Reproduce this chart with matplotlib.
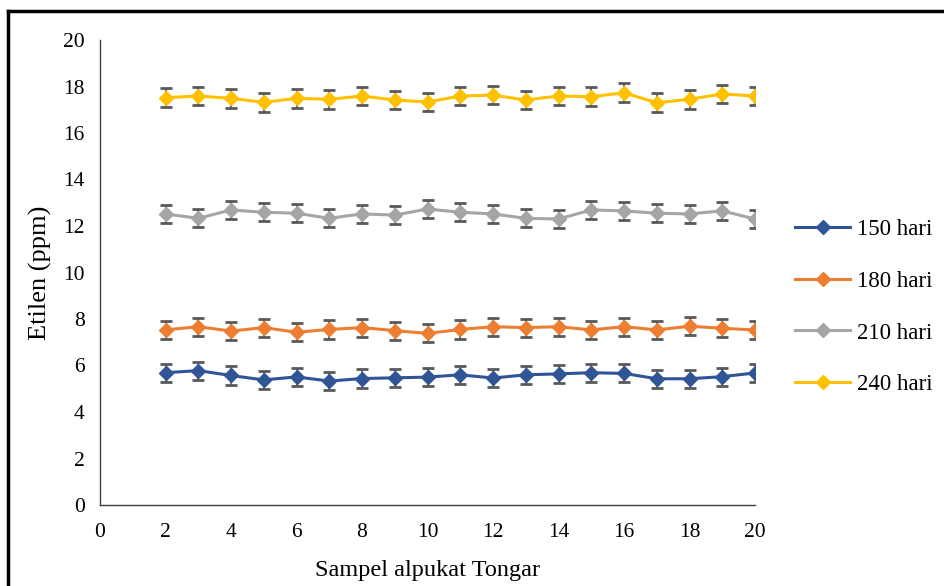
import matplotlib
matplotlib.use("Agg")
import matplotlib.pyplot as plt
from matplotlib.lines import Line2D

plt.rcParams["font.family"] = ["Liberation Serif", "DejaVu Serif"]

samples = list(range(2, 21))
labels = ["150 hari", "180 hari", "210 hari", "240 hari"]
colors = ["#2F5597", "#ED7D31", "#A5A5A5", "#FFC000"]

etilen_150 = [5.69, 5.78, 5.57, 5.38, 5.51, 5.33, 5.44, 5.47, 5.50, 5.60,
              5.46, 5.60, 5.64, 5.69, 5.66, 5.43, 5.43, 5.52, 5.68]
etilen_180 = [7.53, 7.67, 7.48, 7.63, 7.43, 7.55, 7.63, 7.50, 7.38, 7.55,
              7.67, 7.63, 7.67, 7.53, 7.67, 7.53, 7.69, 7.60, 7.53]
etilen_210 = [12.52, 12.33, 12.69, 12.59, 12.55, 12.33, 12.52, 12.47, 12.73, 12.59,
              12.52, 12.33, 12.30, 12.69, 12.65, 12.55, 12.52, 12.65, 12.30]
etilen_240 = [17.52, 17.59, 17.49, 17.32, 17.49, 17.45, 17.59, 17.42, 17.33, 17.59,
              17.63, 17.42, 17.59, 17.56, 17.73, 17.30, 17.45, 17.68, 17.59]
err = [0.39, 0.39, 0.38, 0.40]
series = [etilen_150, etilen_180, etilen_210, etilen_240]

fig = plt.figure(figsize=(9.44, 5.86), dpi=100)
ax = fig.add_axes([100 / 944, 1 - 505 / 586, 655 / 944, 465 / 586])

for vals, e, c in zip(series, err, colors):
    ax.errorbar(samples, vals, yerr=e, color=c, lw=2.2, marker="D", ms=7.5,
                ecolor="#595959", elinewidth=1.2, capsize=4.5, capthick=2, zorder=3)

ax.set_xlim(0, 20)
ax.set_ylim(0, 20)
ax.set_xticks(range(0, 21, 2))
ax.set_yticks(range(0, 21, 2))
ax.tick_params(length=0, labelsize=15.5)
ax.tick_params(axis="x", pad=13)
ax.tick_params(axis="y", pad=11)
for s in ("top", "right"):
    ax.spines[s].set_visible(False)
for s in ("left", "bottom"):
    ax.spines[s].set_color("#404040")
    ax.spines[s].set_linewidth(1)
ax.set_xlabel("Sampel alpukat Tongar", fontsize=17.5, labelpad=13)
ax.set_ylabel("Etilen (ppm)", fontsize=19, labelpad=8)

handles = [Line2D([], [], color=c, lw=2.2, marker="D", ms=7) for c in colors]
fig.legend(handles, labels, loc="center left", bbox_to_anchor=(795 / 944, 1 - 307 / 586),
           frameon=False, fontsize=16.5, labelspacing=1.35, handlelength=2.4,
           handletextpad=0.3, borderpad=0, borderaxespad=0)

# outer frame (only top and left edges are visible in the crop)
fig.add_artist(Line2D([8 / 944, 8 / 944], [0, 1 - 11 / 586], color="black", lw=2.5,
                      transform=fig.transFigure))
fig.add_artist(Line2D([8 / 944, 1], [1 - 11 / 586, 1 - 11 / 586], color="black", lw=2.5,
                      transform=fig.transFigure))

fig.savefig("out.png", dpi=100)
